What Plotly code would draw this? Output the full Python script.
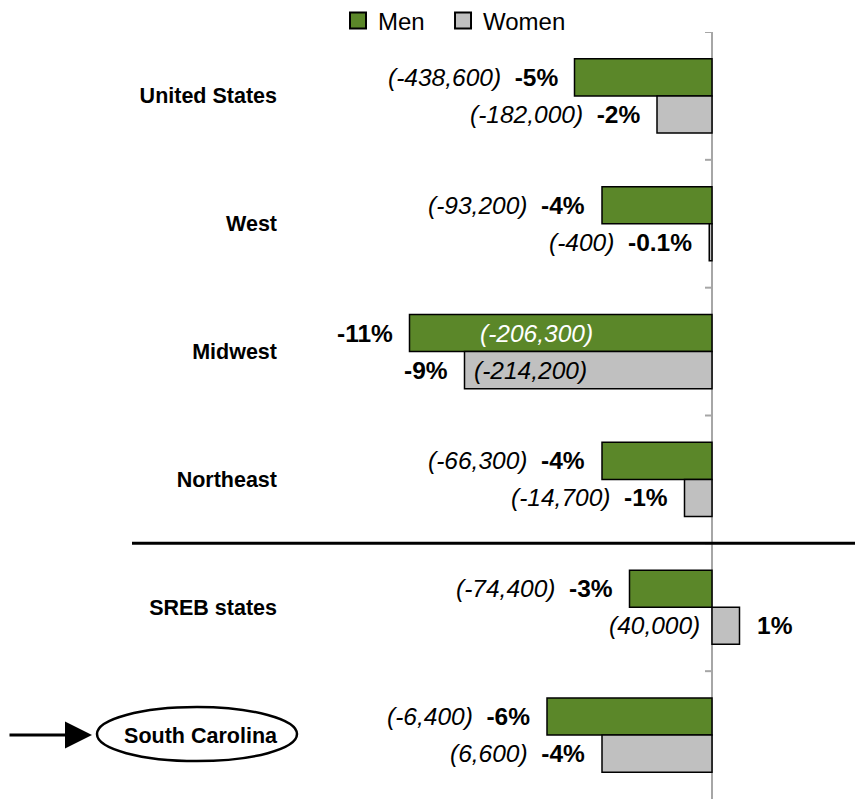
import plotly.graph_objects as go

# ---------------- data ----------------
categories = ["United States", "West", "Midwest", "Northeast", "SREB states", "South Carolina"]
men_pct = [-5, -4, -11, -4, -3, -6]
women_pct = [-2, -0.1, -9, -1, 1, -4]
men_change = [-438600, -93200, -206300, -66300, -74400, -6400]
women_change = [-182000, -400, -214200, -14700, 40000, 6600]
men_pct_labels = ["-5%", "-4%", "-11%", "-4%", "-3%", "-6%"]
women_pct_labels = ["-2%", "-0.1%", "-9%", "-1%", "1%", "-4%"]
series_names = ["Men", "Women"]

# ---------------- style / layout constants ----------------
GREEN = "#5b8729"
GRAY = "#c0c0c0"
AXIS_GRAY = "#a6a6a6"
OFF = 8                      # page body margin of the html page
W, H = 863 - OFF, 799 - OFF
ML, MT = 282 - OFF, 32 - OFF
ZERO_PX = 712 - OFF
PX_PER_PCT = 27.5
BARGAP = 0.42
NUM_FONT = "Liberation Sans, Arial, sans-serif"
CAT_FONT = "Liberation Sans, Arial, sans-serif"
LBL_SIZE = 24.5
NBSP = "\u00a0"

idx = list(range(len(categories)))
plot_w = W - ML
plot_h = H - MT

fig = go.Figure()
for name, vals, col in [(series_names[0], men_pct, GREEN), (series_names[1], women_pct, GRAY)]:
    fig.add_trace(go.Bar(
        y=idx, x=vals, orientation="h", name=name, showlegend=False,
        marker=dict(color=col, line=dict(color="black", width=1.5)),
        hoverinfo="skip",
    ))
# legend entries
for name, col in [(series_names[0] + NBSP * 2, GREEN), (series_names[1], GRAY)]:
    fig.add_trace(go.Scatter(
        x=[None], y=[None], mode="markers", name=name,
        marker=dict(symbol="square", size=16, color=col, line=dict(color="black", width=2)),
    ))

half = (1 - BARGAP) / 4.0  # centre offset of each bar within a category
annotations = []


def fmt(v):
    return "(" + format(v, ",") + ")"


def lab(x, y, text, anchor, shift, color="black"):
    return dict(x=x, y=y, xref="x", yref="y", text=text, xanchor=anchor, xshift=shift,
                showarrow=False, font=dict(family=NUM_FONT, size=LBL_SIZE, color=color))


def add_labels(vals, changes, pct_labels, yoff, inside_shift, inside_color):
    for i, (v, c, p) in enumerate(zip(vals, changes, pct_labels)):
        y = i + yoff
        num = fmt(c)
        if v > 0:
            annotations.append(lab(v, y, "<b>" + p + "</b>", "left", 15))
            annotations.append(lab(0, y, "<i>" + num + "</i>", "right", -10))
        elif v < -8:
            annotations.append(lab(v, y, "<b>" + p + "</b>", "right", -15))
            annotations.append(lab(v, y, "<i>" + num + "</i>", "left", inside_shift, inside_color))
        else:
            annotations.append(lab(v, y, "<i>" + num + "</i>" + NBSP * 2 + "<b>" + p + "</b>",
                                   "right", -15))


add_labels(men_pct, men_change, men_pct_labels, -half, 68, "white")
add_labels(women_pct, women_change, women_pct_labels, half, 7, "black")

# arrow pointing at South Carolina
annotations.append(dict(x=(92 - OFF - ML) / plot_w, y=len(categories) - 1, xref="paper", yref="y",
                        text="", showarrow=True, ax=-85, ay=0, arrowhead=2, arrowwidth=3,
                        arrowsize=1.8, arrowcolor="black", standoff=0))

shapes = []
# axis ticks on the vertical zero axis at category boundaries
for b in range(len(categories)):
    shapes.append(dict(type="line", xref="x", yref="y", xsizemode="pixel", xanchor=0,
                       x0=-7, x1=0, y0=b - 0.5, y1=b - 0.5,
                       line=dict(color=AXIS_GRAY, width=2)))
# separator between regions and SREB
shapes.append(dict(type="line", xref="paper", yref="y", x0=(132 - OFF - ML) / plot_w, x1=1,
                   y0=3.5, y1=3.5, line=dict(color="black", width=3)))
# ellipse around South Carolina
shapes.append(dict(type="circle", xref="paper", yref="y", xsizemode="pixel", ysizemode="pixel",
                   xanchor=(197 - OFF - ML) / plot_w, yanchor=len(categories) - 1,
                   x0=-100, x1=100, y0=-26, y1=28,
                   line=dict(color="black", width=2.5), fillcolor="rgba(0,0,0,0)"))

fig.update_layout(
    width=W, height=H,
    margin=dict(l=ML, r=0, t=MT, b=0, pad=0, autoexpand=False),
    paper_bgcolor="white", plot_bgcolor="white",
    barmode="group", bargap=BARGAP, bargroupgap=0,
    showlegend=True,
    legend=dict(orientation="h", x=(363 - OFF - 25 - ML) / plot_w, y=1 + (MT - (21 - OFF)) / plot_h,
                xanchor="left", yanchor="middle",
                font=dict(family=NUM_FONT, size=24, color="black"),
                bgcolor="rgba(0,0,0,0)"),
    xaxis=dict(range=[-(ZERO_PX - ML) / PX_PER_PCT, (W - ZERO_PX) / PX_PER_PCT],
               showgrid=False, showticklabels=False, ticks="", showline=False,
               zeroline=True, zerolinecolor=AXIS_GRAY, zerolinewidth=2),
    yaxis=dict(range=[len(categories) - 0.5, -0.5], tickvals=idx, ticktext=categories,
               showgrid=False, zeroline=False, showline=False, ticks="",
               tickfont=dict(family=CAT_FONT, size=21.5, color="black", weight="bold"),
               ticklabelstandoff=4),
    annotations=annotations,
    shapes=shapes,
)

fig.write_html("out.html")
